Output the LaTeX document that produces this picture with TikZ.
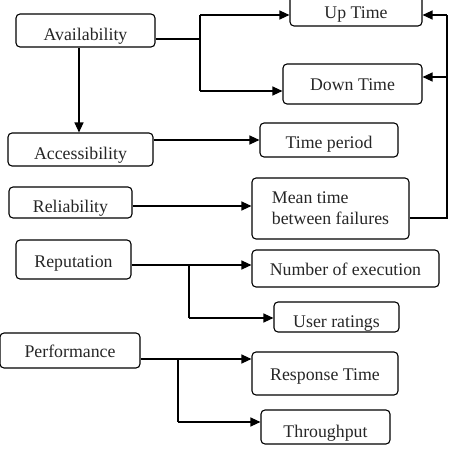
\documentclass[tikz,border=0pt]{standalone}
\usepackage{fontspec}
\setmainfont{Liberation Serif}
\usetikzlibrary{arrows.meta}

\tikzset{
  box/.style={draw, rounded corners=4pt, line width=1.1pt, inner sep=0pt,
    font=\fontsize{17.8}{21}\selectfont, text=black!85},
  low/.style={text height=#1, text depth=4pt},
  arr/.style={line width=1.2pt, -{Triangle[length=10pt,width=9pt]}},
  link/.style={line width=1.2pt}
}

\begin{document}
\begin{tikzpicture}[x=1pt, y=-1pt]

    \useasboundingbox (0,0) rectangle (453,450);
    \clip (0,0) rectangle (453,450);

    % Left column
    \node[box, low=24pt, minimum width=139, minimum height=33] (avail) at (85.5,30.5) {Availability};
    \node[box, low=24pt, minimum width=145, minimum height=33] (access) at (80.5,149.5) {Accessibility};
    \node[box, low=24pt, minimum width=123, minimum height=31] (reliab) at (70.5,202.5) {Reliability};
    \node[box, low=19pt, minimum width=115, minimum height=39] (reput) at (73.5,259.5) {Reputation};
    \node[box, low=18pt, minimum width=140, minimum height=35] (perf) at (70,350.5) {Performance};

    % Right column
    \node[box, low=22pt, minimum width=132, minimum height=34] (uptime) at (356,9) {Up Time};
    \node[box, low=16pt, minimum width=139, minimum height=40] (downtime) at (352.5,84) {Down Time};
    \node[box, low=21pt, minimum width=138, minimum height=34] (timeper) at (329,140) {Time period};
    \node[box, minimum width=157, minimum height=61, align=left] (mtbf) at (330.5,208.5) {Mean time\\between failures};
    \node[box, low=18pt, minimum width=187, minimum height=37] (numexec) at (345.5,268.5) {Number of execution};
    \node[box, low=25pt, minimum width=125, minimum height=30] (userrat) at (336.5,317) {User ratings};
    \node[box, low=18pt, minimum width=146, minimum height=43] (resptime) at (325,373.5) {Response Time};
    \node[box, low=25pt, minimum width=129, minimum height=34] (thru) at (325.5,427) {Throughput};

    % Branch points
    \coordinate (av1) at (200,39);
    \coordinate (av2) at (200,15);
    \coordinate (av3) at (200,91);
    \coordinate (fb1) at (447,15);
    \coordinate (fb2) at (447,77);
    \coordinate (fb3) at (447,218);
    \coordinate (rp1) at (189,265);
    \coordinate (rp2) at (189,318);
    \coordinate (pf1) at (178,359);
    \coordinate (pf2) at (178,422);

    % Availability
    \draw[link] (avail.east |- av1) -- (av1);
    \draw[link] (av2) -- (av3);
    \draw[arr] (av2) -- (uptime.west |- av2);
    \draw[arr] (av3) -- (downtime.west |- av3);
    \draw[arr] ([xshift=-6.5pt]avail.south) -- ([xshift=-6.5pt]avail.south |- access.north);

    % Accessibility, Reliability
    \draw[arr] (access.east |- timeper.west) -- (timeper.west);
    \draw[arr] ([yshift=-3.5pt]reliab.east) -- ([yshift=-3.5pt]reliab.east -| mtbf.west);

    % feedback from MTBF
    \draw[link] (mtbf.east |- fb3) -- (fb3) -- (fb1);
    \draw[arr] (fb1) -- (uptime.east |- fb1);
    \draw[arr] (fb2) -- (downtime.east |- fb2);

    % Reputation
    \draw[arr] (reput.east |- rp1) -- (numexec.west |- rp1);
    \draw[link] (rp1) -- (rp2);
    \draw[arr] (rp2) -- (userrat.west |- rp2);

    % Performance
    \draw[arr] (perf.east |- pf1) -- (resptime.west |- pf1);
    \draw[link] (pf1) -- (pf2);
    \draw[arr] (pf2) -- (thru.west |- pf2);

\end{tikzpicture}
\end{document}
